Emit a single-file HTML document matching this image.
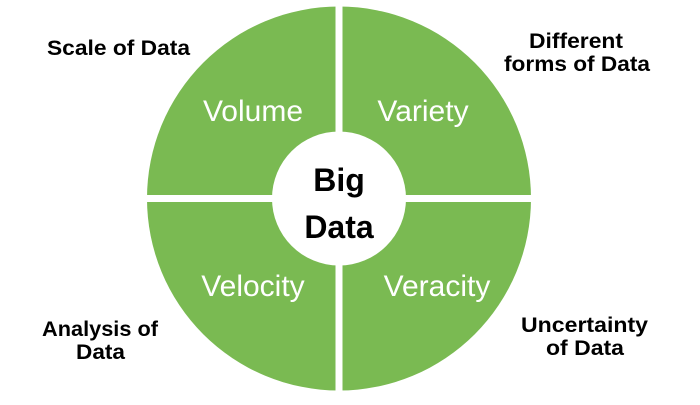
<!DOCTYPE html>
<html><head><style>
body{margin:0;background:#fff;width:700px;height:400px;overflow:hidden}
</style></head><body>
<svg width="700" height="400" xmlns="http://www.w3.org/2000/svg">
<circle cx="339" cy="198.5" r="192" fill="#7aba52"/>
<rect x="335.5" y="0" width="7" height="400" fill="#fff"/>
<rect x="140" y="195" width="400" height="7" fill="#fff"/>
<circle cx="339" cy="198.5" r="67" fill="#fff"/>
<g font-family="Liberation Sans, sans-serif" fill="#fff" font-size="30" text-anchor="middle">
<text x="253" y="121">Volume</text>
<text x="423" y="121">Variety</text>
<text x="253" y="296">Velocity</text>
<text x="437" y="296">Veracity</text>
</g>
<g font-family="Liberation Sans, sans-serif" fill="#000" font-size="32" font-weight="bold" text-anchor="middle">
<text x="339" y="191">Big</text>
<text x="339" y="238">Data</text>
</g>
<g font-family="Liberation Sans, sans-serif" fill="#000" font-size="21" font-weight="bold">
<text x="47" y="55" textLength="143" lengthAdjust="spacingAndGlyphs">Scale of Data</text>
<text x="529" y="48" textLength="94" lengthAdjust="spacingAndGlyphs">Different</text>
<text x="504" y="71" textLength="146" lengthAdjust="spacingAndGlyphs">forms of Data</text>
<text x="42" y="336" textLength="116" lengthAdjust="spacingAndGlyphs">Analysis of</text>
<text x="76" y="359" textLength="49" lengthAdjust="spacingAndGlyphs">Data</text>
<text x="521" y="332" textLength="127" lengthAdjust="spacingAndGlyphs">Uncertainty</text>
<text x="546" y="355" textLength="78" lengthAdjust="spacingAndGlyphs">of Data</text>
</g>
</svg>
</body></html>
